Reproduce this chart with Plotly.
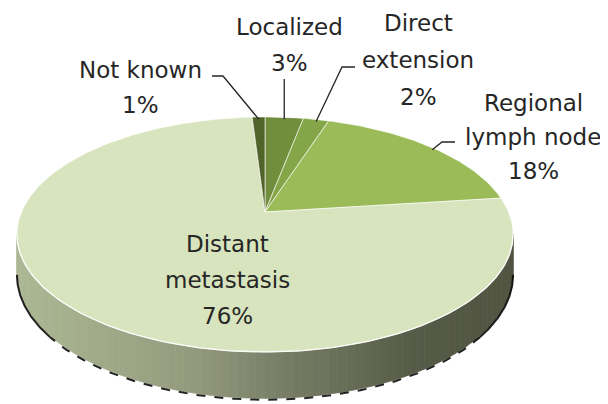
import numpy as np
import plotly.graph_objects as go

# ---- data ----
categories = ["Localized", "Direct extension", "Regional lymph node",
              "Distant metastasis", "Not known"]
percents = [3, 2, 18, 76, 1]
label_lines = [["Localized"], ["Direct", "extension"], ["Regional", "lymph node"],
               ["Distant", "metastasis"], ["Not known"]]

# ---- style ----
slice_colors = ["rgb(112,142,60)", "rgb(132,166,72)", "rgb(155,187,89)",
                "rgb(215,228,189)", "rgb(80,100,42)"]
side_stops = [(0.0, (172, 184, 148)), (0.35, (148, 155, 126)),
              (0.55, (118, 124, 100)), (0.8, (86, 91, 71)), (1.0, (80, 84, 64))]
TEXT = "#262626"
FONT = dict(family="DejaVu Sans", size=23, color=TEXT)

# 3d pie geometry (screen pixels)
CX, CY = 265, 212
RX, RY, PERSP, DEPTH = 243.5, 113.2, 0.191, 37.5
# the page body adds an 8px margin, so view the drawing shifted back
OFF = 8

# label layout: x centre, y of first line, line gap, leader bend point
label_pos = {
    0: dict(x=289, y=27, gap=36, leader=None),
    1: dict(x=418, y=23, gap=37, leader=(355, 67, 342)),
    2: dict(x=533, y=103, gap=34, leader=(455, 142, 442)),
    3: dict(x=227, y=244, gap=36, leader=None),
    4: dict(x=140, y=70, gap=35, leader=(212, 76, 223)),
}


def project(theta_deg, drop=0.0):
    t = np.radians(theta_deg)
    d = np.cos(t)
    s = 1 + PERSP * d
    return CX + RX * np.sin(t) / s, CY + (-RY * d + drop) / s


def side_color(f):
    for (f0, c0), (f1, c1) in zip(side_stops[:-1], side_stops[1:]):
        if f <= f1:
            w = (f - f0) / (f1 - f0)
            c = [round(a + (b - a) * w) for a, b in zip(c0, c1)]
            return "rgb({},{},{})".format(*c)
    return "rgb({},{},{})".format(*side_stops[-1][1])


fig = go.Figure()

# ---- side wall (front half, shaded left to right) ----
t_start = np.degrees(np.arccos(-PERSP))
t_end = 360 - t_start
x_left, _ = project(t_end)
x_right, _ = project(t_start)
edges = np.linspace(t_start, t_end, 91)
for a0, a1 in zip(edges[:-1], edges[1:]):
    th = np.linspace(a0, a1, 4)
    xt, yt = project(th)
    xb, yb = project(th[::-1], DEPTH)
    xs = np.concatenate([xt, xb, xt[:1]])
    ys = np.concatenate([yt, yb, yt[:1]])
    f = (np.mean(xt) - x_left) / (x_right - x_left)
    col = side_color(f)
    fig.add_trace(go.Scatter(x=xs, y=ys, fill="toself", fillcolor=col, mode="lines",
                             line=dict(color=col, width=0.8), hoverinfo="skip",
                             showlegend=False))

# dark rough shadow under the wall
for a0, a1, dash in [(t_start, t_start + 28, "solid"), (t_start + 28, t_end - 28, "dash"),
                     (t_end - 28, t_end, "solid")]:
    th = np.linspace(a0, a1, 80)
    xb, yb = project(th, DEPTH)
    fig.add_trace(go.Scatter(x=xb, y=yb + 1.5, mode="lines",
                             line=dict(color="rgba(10,10,10,0.9)", width=2, dash=dash),
                             hoverinfo="skip", showlegend=False))

# ---- top face slices ----
cum = np.concatenate([[0], np.cumsum(percents)]) / sum(percents) * 360
for i, cat in enumerate(categories):
    a0, a1 = cum[i], cum[i + 1]
    th = np.linspace(a0, a1, max(int(a1 - a0) + 2, 3))
    xs, ys = project(th)
    fig.add_trace(go.Scatter(x=np.concatenate([[CX], xs, [CX]]),
                             y=np.concatenate([[CY], ys, [CY]]),
                             fill="toself", fillcolor=slice_colors[i], mode="lines",
                             line=dict(color="rgba(255,255,255,0.75)", width=0.8),
                             name=cat, hoverinfo="name", showlegend=False))

# light rim between top and wall
th = np.linspace(t_start, t_end, 120)
xr, yr = project(th)
fig.add_trace(go.Scatter(x=xr, y=yr, mode="lines",
                         line=dict(color="rgba(255,255,255,0.9)", width=1.3),
                         hoverinfo="skip", showlegend=False))

# ---- labels and leader lines ----
annotations = []
for i, cat in enumerate(categories):
    p = label_pos[i]
    lines = label_lines[i] + ["{}%".format(percents[i])]
    for j, txt in enumerate(lines):
        annotations.append(dict(x=p["x"], y=p["y"] + j * p["gap"], text=txt,
                                xref="x", yref="y", showarrow=False,
                                xanchor="center", yanchor="middle", font=FONT))
    if i == 3:
        continue
    mid = (cum[i] + cum[i + 1]) / 2
    ex, ey = project(mid)
    ey = ey + 2
    if p["leader"] is None:
        lx, ly = [ex, ex], [p["y"] + p["gap"] + 16, ey]
    else:
        sx, sy, bx = p["leader"]
        lx, ly = [sx, bx, ex], [sy, sy, ey]
    fig.add_trace(go.Scatter(x=lx, y=ly, mode="lines",
                             line=dict(color=TEXT, width=1.3),
                             hoverinfo="skip", showlegend=False))

fig.update_layout(
    width=608, height=404,
    margin=dict(l=0, r=0, t=0, b=0),
    paper_bgcolor="white", plot_bgcolor="white",
    xaxis=dict(range=[OFF, 608 + OFF], visible=False, fixedrange=True),
    yaxis=dict(range=[404 + OFF, OFF], visible=False, fixedrange=True),
    annotations=annotations,
)

fig.write_html("out.html")
